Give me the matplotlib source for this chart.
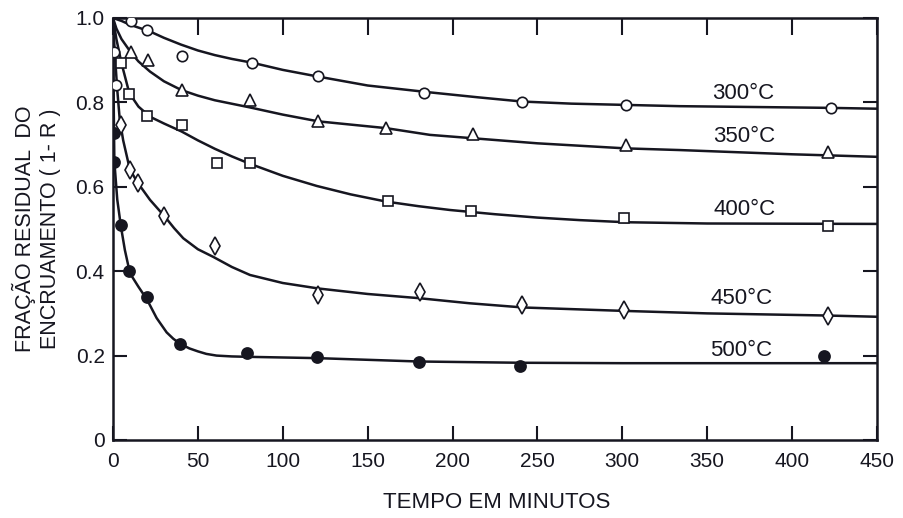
import matplotlib
matplotlib.use("Agg")
import matplotlib.pyplot as plt

plt.rcParams['font.family'] = ['Liberation Sans', 'DejaVu Sans']
ink = '#161620'

# measured points (t in minutes, fraction 1-R)
t300 = [0.8, 2, 10.6, 20, 40.6, 82, 121, 183, 241, 302, 423]
v300 = [0.92, 0.84, 0.993, 0.972, 0.91, 0.893, 0.863, 0.822, 0.80, 0.794, 0.787]
t350 = [10.6, 20.6, 40.6, 81, 121, 161, 212, 302, 421]
v350 = [0.92, 0.90, 0.83, 0.806, 0.756, 0.739, 0.726, 0.70, 0.682]
t400 = [5, 9.6, 20, 40.6, 61, 81, 162, 211, 301, 421]
v400 = [0.893, 0.82, 0.768, 0.746, 0.656, 0.656, 0.566, 0.543, 0.526, 0.507]
t450 = [5, 10, 14.7, 30, 60, 121, 181, 241, 301, 421]
v450 = [0.746, 0.64, 0.609, 0.531, 0.46, 0.344, 0.351, 0.32, 0.308, 0.294]
t500 = [0.6, 0.6, 4.7, 9.4, 19.8, 39.5, 79, 120, 180, 240, 419]
v500 = [0.728, 0.659, 0.509, 0.40, 0.339, 0.227, 0.206, 0.197, 0.185, 0.175, 0.20]

# fitted curves
c300_t = [0, 5, 10, 21.8, 30, 40, 50, 60, 70, 82, 100, 121, 150, 186, 215, 241, 270, 302, 334, 422, 450]
c300_v = [1.0, 0.993, 0.984, 0.968, 0.953, 0.937, 0.923, 0.912, 0.903, 0.894, 0.877, 0.861, 0.84, 0.824, 0.812, 0.802, 0.797, 0.794, 0.791, 0.787, 0.785]
c350_t = [0, 2, 5, 10.6, 15, 21.8, 30, 40.4, 50, 60, 80.7, 100, 121, 160.8, 186.7, 212, 250, 302, 334, 400, 450]
c350_v = [1.0, 0.975, 0.95, 0.918, 0.897, 0.873, 0.85, 0.829, 0.816, 0.805, 0.788, 0.771, 0.755, 0.739, 0.723, 0.715, 0.703, 0.691, 0.687, 0.677, 0.671]
c400_t = [0, 2, 5, 9.6, 15, 21.8, 30, 40.4, 50, 60, 70, 80.3, 100, 120, 140, 160.8, 180, 198.5, 225, 250, 275, 302, 350, 450]
c400_v = [1.0, 0.95, 0.893, 0.822, 0.79, 0.766, 0.75, 0.731, 0.71, 0.69, 0.672, 0.655, 0.626, 0.602, 0.582, 0.565, 0.554, 0.545, 0.535, 0.527, 0.521, 0.516, 0.513, 0.512]
c450_t = [0, 1, 2.5, 4, 6, 10, 15, 21.8, 30.6, 36, 41.4, 50, 59, 70, 80.7, 100, 121, 150, 180.4, 210, 241.6, 300, 350, 420, 450]
c450_v = [1.0, 0.92, 0.83, 0.758, 0.71, 0.64, 0.607, 0.569, 0.529, 0.502, 0.478, 0.452, 0.434, 0.41, 0.391, 0.372, 0.359, 0.346, 0.336, 0.324, 0.314, 0.306, 0.300, 0.295, 0.292]
c500_t = [0, 0.4, 0.8, 2.5, 4.7, 7, 10, 15, 20, 25.7, 31.6, 35.5, 39.5, 45, 50, 55, 61, 70, 80, 120, 180, 240, 300, 450]
c500_v = [1.0, 0.8, 0.66, 0.57, 0.505, 0.45, 0.395, 0.363, 0.333, 0.289, 0.255, 0.240, 0.228, 0.217, 0.21, 0.204, 0.2, 0.198, 0.197, 0.194, 0.186, 0.183, 0.182, 0.182]

labels = ['300°C', '350°C', '400°C', '450°C', '500°C']
label_t = [371, 372, 372, 370, 370]
label_v = [0.822, 0.718, 0.547, 0.336, 0.213]

fig = plt.figure(figsize=(9.04, 5.18), dpi=100)
ax = fig.add_axes([0.125, 0.1506, 0.845, 0.8147])

curves = [(c300_t, c300_v), (c350_t, c350_v), (c400_t, c400_v),
          (c450_t, c450_v), (c500_t, c500_v)]
for ct, cv in curves:
    ax.plot(ct, cv, color=ink, lw=1.8, zorder=2, solid_joinstyle='round')

mk = dict(ls='none', mec=ink, mew=1.2, zorder=3)
ax.plot(t300, v300, 'o', ms=7.5, mfc='white', **mk)
ax.plot(t350, v350, '^', ms=8, mfc='white', **mk)
ax.plot(t400, v400, 's', ms=7, mfc='white', **mk)
ax.plot(t450, v450, 'd', ms=9, mfc='white', **mk)
ax.plot(t500, v500, 'o', ms=8, mfc=ink, **mk)

for lab, lt, lv in zip(labels, label_t, label_v):
    ax.text(lt, lv, lab, ha='center', va='center', fontsize=16, color=ink)

ax.set_xlim(0, 450)
ax.set_ylim(0, 1.0)
ax.set_xticks(range(0, 451, 50))
ax.set_yticks([0, 0.2, 0.4, 0.6, 0.8, 1.0])
ax.set_yticklabels(['0', '0.2', '0.4', '0.6', '0.8', '1.0'])
ax.tick_params(direction='in', length=10, width=1.5, colors=ink,
               labelsize=15, top=True, right=True)
ax.tick_params(axis='x', pad=9)
ax.tick_params(axis='y', pad=6)
for tk in ax.xaxis.get_major_ticks():
    tk.tick2line.set_markersize(12)
for sp in ax.spines.values():
    sp.set_linewidth(1.8)
    sp.set_color(ink)

fig.text(36 / 904, 1 - 229 / 518, 'FRAÇÃO RESIDUAL  DO\nENCRUAMENTO ( 1- R )',
         rotation=90, ha='center', va='center', fontsize=15.5, color=ink,
         linespacing=1.25, multialignment='center')
fig.text(497 / 904, 1 - 502 / 518, 'TEMPO EM MINUTOS', ha='center', va='center',
         fontsize=16, color=ink)

fig.savefig('out.png', dpi=100)
